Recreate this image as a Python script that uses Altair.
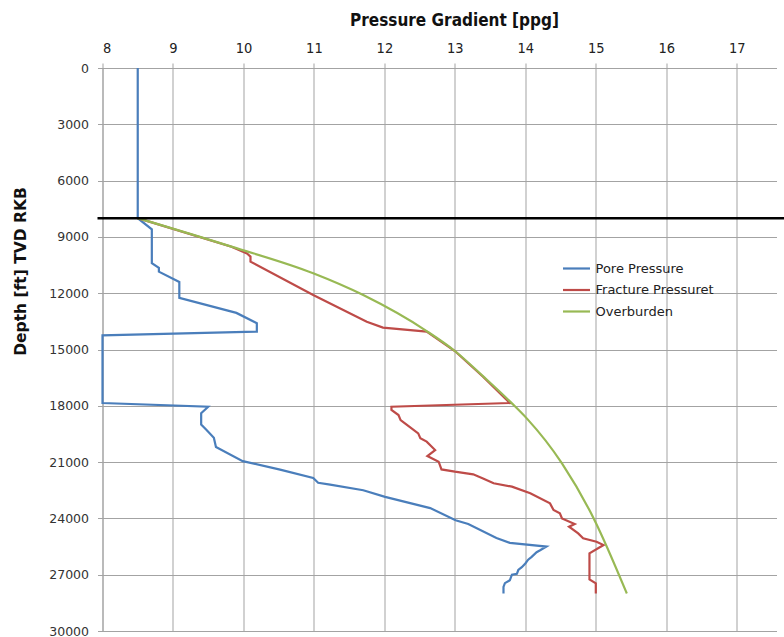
import altair as alt
import pandas as pd

series_names = ["Pore Pressure", "Fracture Pressuret", "Overburden"]
series_colors = ["#4a7ebb", "#be4b48", "#98b954"]

pore_ppg = [8.5, 8.5, 8.7, 8.7, 8.8, 8.8, 9.09, 9.09, 9.9, 10.19, 10.19, 8.0, 8.0,
            9.5, 9.4, 9.4, 9.48, 9.58, 9.61, 9.99, 10.52, 10.99, 11.06, 11.23, 11.70,
            12.01, 12.65, 13.01, 13.19, 13.59, 13.78, 14.30, 14.21, 14.16, 14.09, 14.04,
            14.00, 13.95, 13.90, 13.88, 13.81, 13.78, 13.71, 13.69, 13.69]
pore_depth = [0, 8000, 8600, 10400, 10650, 10850, 11400, 12250, 13050, 13600, 14050, 14250, 17850,
              18050, 18400, 19000, 19300, 19700, 20200, 20950, 21400, 21850, 22100, 22200, 22500,
              22850, 23450, 24100, 24300, 25050, 25300, 25500, 25700, 25800, 26050, 26200,
              26400, 26600, 26750, 26950, 27000, 27300, 27450, 27650, 28000]

frac_ppg = [8.5, 9.83, 10.05, 10.10, 10.10, 10.99, 11.75, 11.98, 12.60, 13.00, 13.40, 13.78,
            12.10, 12.10, 12.20, 12.23, 12.32, 12.48, 12.51, 12.60, 12.72, 12.61, 12.77, 12.81,
            13.00, 13.26, 13.40, 13.55, 13.81, 14.07, 14.35, 14.40, 14.49, 14.52, 14.70, 14.62,
            14.75, 14.82, 15.01, 15.11, 14.91, 14.91, 15.00, 15.00]
frac_depth = [8000, 9520, 9880, 10050, 10320, 12100, 13520, 13830, 14050, 15080, 16450, 17850,
              18050, 18220, 18490, 18760, 19020, 19470, 19730, 19910, 20360, 20680, 20980, 21390,
              21510, 21650, 21870, 22130, 22310, 22660, 23200, 23550, 23730, 24000, 24300, 24440,
              24800, 25060, 25240, 25420, 25860, 27250, 27460, 28000]

ob_ppg = [8.5, 9.83, 10.99, 11.70, 12.60, 13.00, 13.41, 13.81, 14.02, 14.52, 14.97, 15.44]
ob_depth = [8000, 9520, 10940, 12100, 14020, 15080, 16460, 17870, 18670, 21070, 24000, 28000]

marker_depth = [8000]

rows = []
for name, xs, ds in [(series_names[0], pore_ppg, pore_depth),
                     (series_names[1], frac_ppg, frac_depth),
                     (series_names[2], ob_ppg, ob_depth)]:
    for i, (x, d) in enumerate(zip(xs, ds)):
        rows.append({"series": name, "ppg": x, "depth": d, "idx": i})
df = pd.DataFrame(rows)

xscale = alt.Scale(domain=[8, 17.564], nice=False, zero=False)
yscale = alt.Scale(domain=[0, 30000], reverse=True, nice=False, zero=False)
cscale = alt.Scale(domain=series_names, range=series_colors)

x_enc = alt.X("ppg:Q", scale=xscale,
              axis=alt.Axis(orient="top", values=list(range(8, 18)), title="Pressure Gradient [ppg]",
                            labelFont="DejaVu Sans Condensed, DejaVu Sans, sans-serif",
                            labelFontSize=14.5, labelPadding=8, labelColor="#222",
                            titleFont="DejaVu Sans Condensed, DejaVu Sans, sans-serif",
                            titleFontSize=17, titleFontWeight="bold", titlePadding=11,
                            titleX=351.5, titleColor="#111"))
y_enc = alt.Y("depth:Q", scale=yscale,
              axis=alt.Axis(values=list(range(0, 30001, 3000)), format="d",
                            title="Depth [ft] TVD RKB",
                            labelFont="DejaVu Sans", labelFontSize=12.5, labelPadding=9,
                            labelColor="#333",
                            titleFont="DejaVu Sans", titleFontSize=15.5, titleFontWeight="bold",
                            titleX=-82, titleY=203, titleAlign="center", titleBaseline="middle",
                            titleColor="#111"))
c_enc = alt.Color("series:N", scale=cscale,
                  legend=alt.Legend(title=None, orient="none", legendX=462.5, legendY=189,
                                    symbolType="M-1.35,0H1.35", symbolSize=400,
                                    symbolStrokeWidth=2.2, labelOffset=7.5, rowPadding=2.5,
                                    padding=0, labelFont="DejaVu Sans", labelFontSize=13,
                                    labelColor="#222"))

base = alt.Chart(df)

steps = base.transform_filter(
    alt.FieldOneOfPredicate(field="series", oneOf=series_names[:2])
).mark_line(strokeWidth=2.2).encode(x=x_enc, y=y_enc, color=c_enc, order="idx:Q")

overburden = base.transform_filter(
    alt.FieldEqualPredicate(field="series", equal=series_names[2])
).mark_line(strokeWidth=2.2, interpolate="monotone").encode(
    x=x_enc, y=y_enc, color=c_enc, order="idx:Q")

marker = alt.Chart(pd.DataFrame({"depth": marker_depth})).mark_rule(
    color="black", strokeWidth=2.5
).encode(
    y=alt.Y("depth:Q", scale=yscale),
    x=alt.value(-5),
    x2=alt.value(682),
)

chart = alt.layer(steps, overburden, marker).properties(
    width=674, height=563,
    autosize=alt.AutoSizeParams(type="none"),
    padding={"left": 102.5, "top": 68, "right": 7.5, "bottom": 6},
    background="white",
).configure_view(stroke=None).configure_axis(
    gridColor="#a3a3a3", gridWidth=1, domainColor="#a3a3a3", tickColor="#a3a3a3",
    tickSize=5, domainWidth=1,
)

chart.save("out.html", embed_options={"renderer": "svg", "actions": False})
